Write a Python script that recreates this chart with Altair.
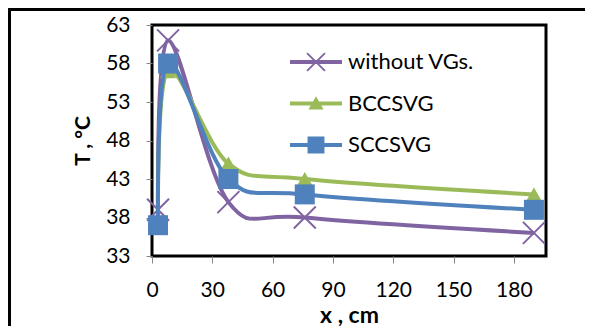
import altair as alt
import pandas as pd

# ---- data ----
x_cm = [3, 8, 38, 76, 190]
series_names = ["without VGs.", "BCCSVG", "SCCSVG"]
t_without = [39, 61, 40, 38, 36]
t_bcc = [37, 57, 45, 43, 41]
t_scc = [37, 58, 43, 41, 39]
y_ticks = [33, 38, 43, 48, 53, 58, 63]
x_ticks = [0, 30, 60, 90, 120, 150, 180]
colors = ["#8064A2", "#9BBB59", "#4F81BD"]

rows = []
for name, vals in zip(series_names, [t_without, t_bcc, t_scc]):
    for xv, tv in zip(x_cm, vals):
        rows.append({"x": xv, "T": tv, "series": name})
df = pd.DataFrame(rows)

FONT = "Lato"
color_scale = alt.Scale(domain=series_names, range=colors)

x_enc = alt.X("x:Q", scale=alt.Scale(domain=[0, 196], nice=False),
              axis=alt.Axis(values=x_ticks, title="x , cm", tickSize=7, labelPadding=16,
                            titlePadding=4, labelFlush=False, titleFontSize=23))
y_enc = alt.Y("T:Q", scale=alt.Scale(domain=[33, 63], nice=False, zero=False),
              axis=alt.Axis(values=y_ticks, title="T , °C", tickSize=6, labelPadding=16,
                            titlePadding=12, titleFontSize=21))

base = alt.Chart(df)

# legend symbols: line segment + marker, as filled custom paths (unit r = 13px)
a, e = 0.69, 0.05
line_part = "M-2,-0.154L2,-0.154L2,0.154L-2,0.154Z"
x_marker = (f"M{-a+e},{-a-e}L{a+e},{a-e}L{a-e},{a+e}L{-a-e},{-a+e}Z"
            f"M{a+e},{-a+e}L{-a+e},{a+e}L{-a-e},{a-e}L{a-e},{-a-e}Z")
tri_marker = "M0,-0.56L0.58,0.46L-0.58,0.46Z"
sq_marker = "M-0.65,-0.65L0.65,-0.65L0.65,0.65L-0.65,0.65Z"
legend_paths = [line_part + x_marker, line_part + tri_marker, line_part + sq_marker]

legend_def = alt.Legend(
    title=None, orient="none", legendX=151, legendY=24, padding=0,
    rowPadding=17.5, labelOffset=19, symbolSize=676, symbolStrokeWidth=0,
    symbolOpacity=1, labelFont=FONT, labelFontSize=22, labelColor="#000000",
    labelLimit=300,
)
legend_layer = base.transform_filter("datum.x < 0").mark_point(
    filled=True, opacity=1, size=676, strokeWidth=0
).encode(
    x=x_enc, y=y_enc,
    color=alt.Color("series:N", scale=color_scale, legend=legend_def),
    shape=alt.Shape("series:N", scale=alt.Scale(domain=series_names, range=legend_paths),
                    legend=legend_def),
)

X_PATH = "M-1,-1L1,1M-1,1L1,-1"
shapes_plot = [
    dict(shape=X_PATH, filled=False, size=484, strokeWidth=2),
    dict(shape="triangle-up", filled=True, size=260, strokeWidth=0),
    dict(shape="square", filled=True, size=400, strokeWidth=0),
]

layers = [legend_layer]
for name, col, shp in zip(series_names, colors, shapes_plot):
    sub = base.transform_filter(alt.datum.series == name)
    layers.append(
        sub.mark_line(interpolate="cardinal", strokeWidth=4, color=col).encode(x=x_enc, y=y_enc)
    )
    layers.append(
        sub.mark_point(opacity=1, color=col, **shp).encode(x=x_enc, y=y_enc)
    )

# outer frame lines (top and left edge of the figure box)
frame_top = base.mark_rule(color="black", strokeWidth=3).encode(
    x=alt.value(-144), x2=alt.value(433), y=alt.value(-15.5))
frame_left = base.mark_rule(color="black", strokeWidth=3).encode(
    x=alt.value(-142.5), y=alt.value(-17), y2=alt.value(301))

chart = alt.layer(frame_top, frame_left, *layers).properties(
    width=394, height=231,
    autosize=alt.AutoSizeParams(type="none"),
    padding={"left": 144, "top": 17, "right": 39, "bottom": 70},
).configure_view(
    stroke="black", strokeWidth=3
).configure_axis(
    grid=False, domain=False, tickColor="#868686", tickWidth=1,
    labelFont=FONT, labelFontSize=21, labelColor="#000000",
    titleFont=FONT, titleFontSize=22, titleFontWeight="bold", titleColor="#000000",
)

chart.save("out.html", embed_options={"renderer": "svg", "actions": False})
